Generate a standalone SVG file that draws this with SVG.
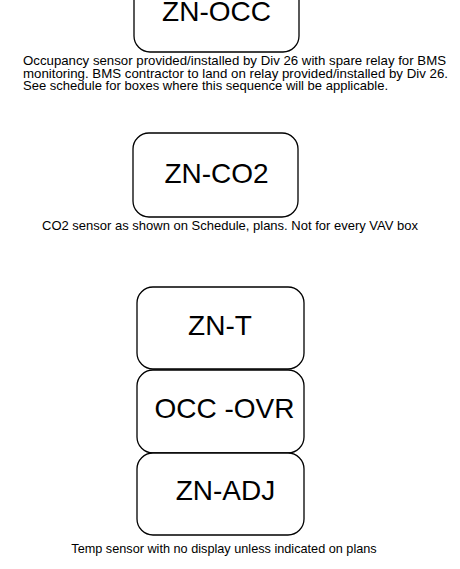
<svg xmlns="http://www.w3.org/2000/svg" width="460" height="569" viewBox="0 0 460 569">
<style>
.box{fill:#fff;stroke:#000;stroke-width:1.3}
.lbl{font-family:"Liberation Sans",Arial,sans-serif;font-size:28px;fill:#000;text-anchor:middle}
.cap{font-family:"Liberation Sans",Arial,sans-serif;font-size:13px;fill:#000}
.mid{text-anchor:middle}
</style>
<rect width="460" height="569" fill="#fff"/>
<g id="zn-occ">
<rect class="box" x="134" y="-30" width="165" height="82" rx="16"/>
<text class="lbl" x="216.5" y="21">ZN-OCC</text>
</g>
<g id="zn-occ-note">
<text class="cap" style="font-size:12.6px"><tspan x="23" y="65" textLength="423" lengthAdjust="spacingAndGlyphs">Occupancy sensor provided/installed by Div 26 with spare relay for BMS</tspan><tspan x="23" y="77.5" textLength="425" lengthAdjust="spacingAndGlyphs">monitoring. BMS contractor to land on relay provided/installed by Div 26.</tspan><tspan x="23" y="90" textLength="365" lengthAdjust="spacingAndGlyphs">See schedule for boxes where this sequence will be applicable.</tspan></text>
</g>
<g id="zn-co2">
<rect class="box" x="133" y="133" width="165" height="84" rx="16"/>
<text class="lbl" x="216.5" y="183">ZN-CO2</text>
</g>
<g id="zn-co2-note">
<text class="cap mid" x="230" y="230">CO2 sensor as shown on Schedule, plans. Not for every VAV box</text>
</g>
<g id="zn-t">
<rect class="box" x="137" y="287" width="167" height="82" rx="16"/>
<text class="lbl" x="220" y="335">ZN-T</text>
</g>
<g id="occ-ovr">
<rect class="box" x="137" y="370" width="167" height="83" rx="16"/>
<text class="lbl" x="224.5" y="418">OCC -OVR</text>
</g>
<g id="zn-adj">
<rect class="box" x="137" y="453" width="167" height="82" rx="16"/>
<text class="lbl" x="225.5" y="500">ZN-ADJ</text>
</g>
<g id="zn-t-note">
<text class="cap mid" x="224" y="553" style="font-size:12.7px">Temp sensor with no display unless indicated on plans</text>
</g>
<g id="connectors"></g>
</svg>
